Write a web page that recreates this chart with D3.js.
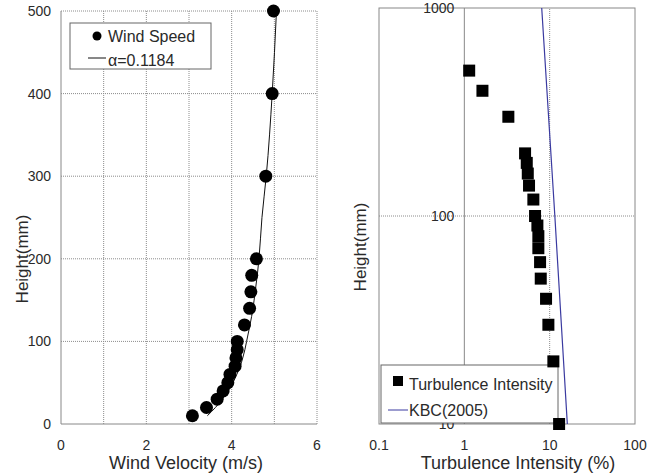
<!DOCTYPE html>
<html>
<head>
<meta charset="utf-8">
<script src="https://cdn.jsdelivr.net/npm/d3@7"></script>
<style>
  body { margin: 0; background: #fff; }
  svg { font-family: "Liberation Sans", Arial, sans-serif; }
</style>
</head>
<body>
<svg id="chart" width="664" height="475"></svg>
<script>
// measured heights (mm)
const heights = [10, 20, 30, 40, 50, 60, 70, 80, 90, 100, 120, 140, 160, 180, 200, 300, 400, 500];
// mean wind speed (m/s)
const windSpeed = [3.08, 3.41, 3.66, 3.80, 3.91, 3.96, 4.08, 4.10, 4.13, 4.13, 4.30, 4.42, 4.45, 4.47, 4.58, 4.80, 4.95, 4.98];
// turbulence intensity (%)
const turbulence = [12.9, 11.05, 9.66, 9.07, 7.86, 7.72, 7.37, 7.37, 7.18, 6.74, 6.44, 5.73, 5.54, 5.39, 5.15, 3.28, 1.63, 1.14];

// power law fit curve
const fitHeights = [10, 20, 30, 40, 50, 60, 70, 80, 90, 100, 120, 140, 160, 180, 200, 250, 300, 400, 500];
const fitSpeed = [3.43, 3.62, 3.78, 3.92, 4.03, 4.12, 4.20, 4.26, 4.31, 4.35, 4.43, 4.50, 4.55, 4.60, 4.64, 4.71, 4.81, 4.95, 5.05];

// KBC(2005) turbulence line
const kbcHeights = [10, 100, 1000];
const kbcTI = [16.1, 11.5, 8.07];

const velTicks = [0, 1, 2, 3, 4, 5, 6];
const velLabels = [0, 2, 4, 6];
const hTicks = [0, 100, 200, 300, 400, 500];
const tiTicks = [0.1, 1, 10, 100];
const hLogTicks = [10, 100, 1000];

const svg = d3.select("#chart");
const gridCol = "#8c8c8c";
const axisCol = "#888";
const textCol = "#2a2a2a";

// ---------- left panel ----------
const x1 = d3.scaleLinear().domain([0, 6]).range([61, 317]);
const y1 = d3.scaleLinear().domain([0, 500]).range([424, 11]);

const left = svg.append("g");

left.selectAll(".vgrid").data(velTicks.filter(d => d > 0)).enter()
  .append("line")
  .attr("x1", d => x1(d)).attr("x2", d => x1(d))
  .attr("y1", y1(0)).attr("y2", y1(500))
  .attr("stroke", gridCol).attr("stroke-width", 1)
  .attr("stroke-dasharray", "1,1");

left.selectAll(".hgrid").data(hTicks.filter(d => d > 0)).enter()
  .append("line")
  .attr("x1", x1(0)).attr("x2", x1(6))
  .attr("y1", d => y1(d)).attr("y2", d => y1(d))
  .attr("stroke", gridCol).attr("stroke-width", 1)
  .attr("stroke-dasharray", "1,1");

// axes lines
left.append("line").attr("x1", x1(0)).attr("x2", x1(0)).attr("y1", y1(0)).attr("y2", y1(500))
  .attr("stroke", axisCol);
left.append("line").attr("x1", x1(0)).attr("x2", x1(6)).attr("y1", y1(0)).attr("y2", y1(0))
  .attr("stroke", axisCol);

left.selectAll(".ylab").data(hTicks).enter()
  .append("text")
  .attr("x", 51).attr("y", d => y1(d) + 5)
  .attr("text-anchor", "end").attr("font-size", 14).attr("fill", textCol)
  .text(d => d);

left.selectAll(".xlab").data(velLabels).enter()
  .append("text")
  .attr("x", d => x1(d)).attr("y", 450)
  .attr("text-anchor", "middle").attr("font-size", 14).attr("fill", textCol)
  .text(d => d);

left.append("text")
  .attr("x", 186).attr("y", 469)
  .attr("text-anchor", "middle").attr("font-size", 18).attr("fill", textCol)
  .text("Wind Velocity (m/s)");

left.append("text")
  .attr("transform", "translate(28,259) rotate(-90)")
  .attr("text-anchor", "middle").attr("font-size", 17).attr("fill", textCol)
  .text("Height(mm)");

// fitted curve
const fitLine = d3.line().x(d => x1(d[0])).y(d => y1(d[1])).curve(d3.curveMonotoneY);
left.append("path")
  .datum(fitSpeed.map((v, i) => [v, fitHeights[i]]))
  .attr("d", fitLine)
  .attr("fill", "none").attr("stroke", "#111").attr("stroke-width", 1);

left.selectAll(".dot").data(windSpeed.map((v, i) => [v, heights[i]])).enter()
  .append("circle")
  .attr("cx", d => x1(d[0])).attr("cy", d => y1(d[1]))
  .attr("r", 6.5).attr("fill", "#000");

// legend
const lg1 = left.append("g");
lg1.append("rect").attr("x", 70).attr("y", 23).attr("width", 141).attr("height", 46)
  .attr("fill", "#fff").attr("stroke", "#666");
lg1.append("circle").attr("cx", 97).attr("cy", 36).attr("r", 4.5).attr("fill", "#000");
lg1.append("text").attr("x", 108).attr("y", 42).attr("font-size", 16).attr("fill", textCol).text("Wind Speed");
lg1.append("line").attr("x1", 88).attr("x2", 106).attr("y1", 58).attr("y2", 58)
  .attr("stroke", "#111");
lg1.append("text").attr("x", 108).attr("y", 66).attr("font-size", 16).attr("fill", textCol).text("α=0.1184");

// ---------- right panel ----------
const x2 = d3.scaleLog().domain([0.1, 100]).range([379, 635]);
const y2 = d3.scaleLog().domain([10, 1000]).range([424, 8]);

const right = svg.append("g");

// frame
right.append("rect").attr("x", x2(0.1)).attr("y", y2(1000))
  .attr("width", x2(100) - x2(0.1)).attr("height", y2(10) - y2(1000))
  .attr("fill", "none").attr("stroke", axisCol);

// grid
right.append("line").attr("x1", x2(10)).attr("x2", x2(10)).attr("y1", y2(10)).attr("y2", y2(1000))
  .attr("stroke", gridCol).attr("stroke-dasharray", "1,1");
right.append("line").attr("x1", x2(0.1)).attr("x2", x2(100)).attr("y1", y2(100)).attr("y2", y2(100))
  .attr("stroke", gridCol).attr("stroke-dasharray", "1,1");
// y axis crossing at 1
right.append("line").attr("x1", x2(1)).attr("x2", x2(1)).attr("y1", y2(10)).attr("y2", y2(1000))
  .attr("stroke", axisCol);

right.selectAll(".ylab").data(hLogTicks).enter()
  .append("text")
  .attr("x", x2(1) - 10).attr("y", d => y2(d) + 5)
  .attr("text-anchor", "end").attr("font-size", 14).attr("fill", textCol)
  .text(d => d);

right.selectAll(".xlab").data(tiTicks).enter()
  .append("text")
  .attr("x", d => x2(d)).attr("y", 450)
  .attr("text-anchor", "middle").attr("font-size", 14).attr("fill", textCol)
  .text(d => d);

right.append("text")
  .attr("x", 518).attr("y", 469)
  .attr("text-anchor", "middle").attr("font-size", 18).attr("fill", textCol)
  .text("Turbulence Intensity (%)");

right.append("text")
  .attr("transform", "translate(366,247) rotate(-90)")
  .attr("text-anchor", "middle").attr("font-size", 17).attr("fill", textCol)
  .text("Height(mm)");

// legend (under the data)
const lg2 = right.append("g");
lg2.append("rect").attr("x", 381).attr("y", 365).attr("width", 177).attr("height", 58)
  .attr("fill", "#fff").attr("stroke", "#666");
lg2.append("rect").attr("x", 393).attr("y", 376).attr("width", 10).attr("height", 10).attr("fill", "#000");
lg2.append("text").attr("x", 409).attr("y", 390).attr("font-size", 16).attr("fill", textCol).text("Turbulence Intensity");
lg2.append("line").attr("x1", 388).attr("x2", 408).attr("y1", 410).attr("y2", 410)
  .attr("stroke", "#3a3aa0");
lg2.append("text").attr("x", 409).attr("y", 416).attr("font-size", 16).attr("fill", textCol).text("KBC(2005)");

// KBC line
right.append("path")
  .datum(kbcTI.map((v, i) => [v, kbcHeights[i]]))
  .attr("d", d3.line().x(d => x2(d[0])).y(d => y2(d[1])))
  .attr("fill", "none").attr("stroke", "#3a3aa0").attr("stroke-width", 1.2);

right.selectAll(".sq").data(turbulence.map((v, i) => [v, heights[i]])).enter()
  .append("rect")
  .attr("x", d => x2(d[0]) - 6).attr("y", d => y2(d[1]) - 6)
  .attr("width", 12).attr("height", 12).attr("fill", "#000");
</script>
</body>
</html>
